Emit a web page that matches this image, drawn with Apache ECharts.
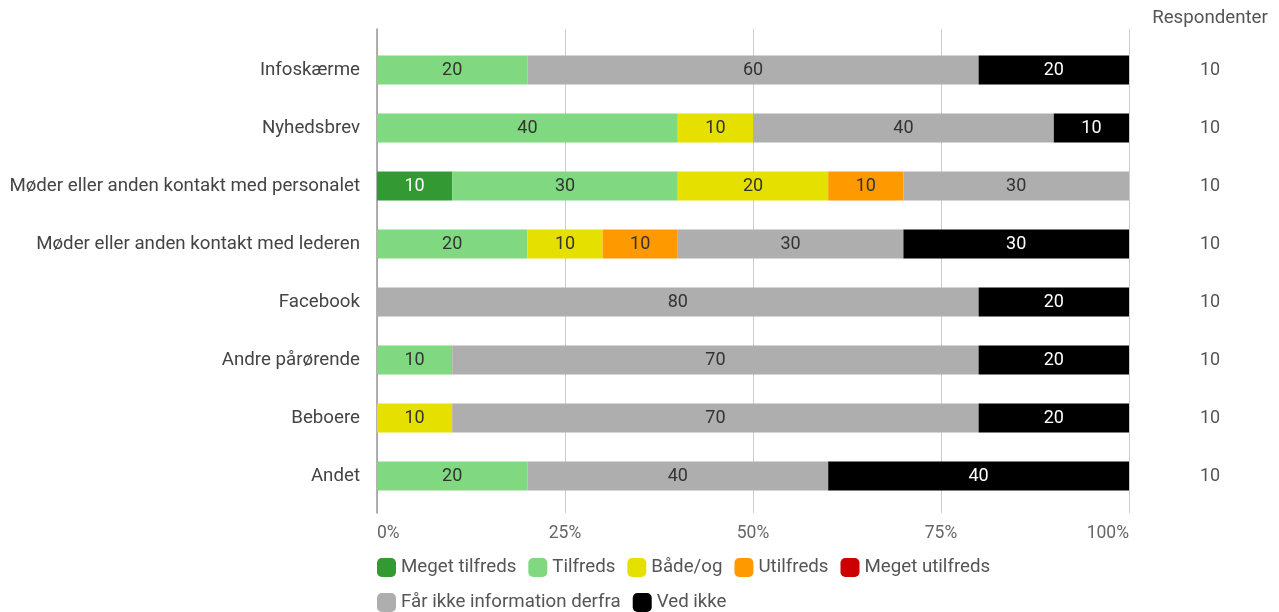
<!DOCTYPE html>
<html>
<head>
<meta charset="utf-8">
<script src="https://cdn.jsdelivr.net/npm/echarts@6/dist/echarts.min.js"></script>
<style>
  html, body { margin: 0; padding: 0; background: #fff; }
  #chart { width: 1279px; height: 612px; }
</style>
</head>
<body>
<div id="chart"></div>
<script>
// kategorier, oppefra og ned
const categories = [
  'Infoskærme',
  'Nyhedsbrev',
  'Møder eller anden kontakt med personalet',
  'Møder eller anden kontakt med lederen',
  'Facebook',
  'Andre pårørende',
  'Beboere',
  'Andet'
];
const respondents = [10, 10, 10, 10, 10, 10, 10, 10];

const megetTilfreds  = [0, 0, 10, 0, 0, 0, 0, 0];
const tilfreds       = [20, 40, 30, 20, 0, 10, 0, 20];
const baadeOg        = [0, 10, 20, 10, 0, 0, 10, 0];
const utilfreds      = [0, 0, 10, 10, 0, 0, 0, 0];
const megetUtilfreds = [0, 0, 0, 0, 0, 0, 0, 0];
const faarIkke       = [60, 40, 30, 30, 80, 70, 70, 40];
const vedIkke        = [20, 10, 0, 30, 20, 20, 20, 40];

const seriesDefs = [
  { name: 'Meget tilfreds', data: megetTilfreds, color: '#339933', text: '#fff' },
  { name: 'Tilfreds', data: tilfreds, color: '#80d880', text: '#333' },
  { name: 'Både/og', data: baadeOg, color: '#e6e000', text: '#333' },
  { name: 'Utilfreds', data: utilfreds, color: '#ff9900', text: '#333' },
  { name: 'Meget utilfreds', data: megetUtilfreds, color: '#cc0000', text: '#fff' },
  { name: 'Får ikke information derfra', data: faarIkke, color: '#aeaeae', text: '#333' },
  { name: 'Ved ikke', data: vedIkke, color: '#000000', text: '#fff' }
];

const font = 'Roboto, "Noto Sans", sans-serif';
const myChart = echarts.init(document.getElementById('chart'));

const legendStyle = {
  left: 377,
  padding: 0,
  orient: 'horizontal',
  icon: 'roundRect',
  itemWidth: 19,
  itemHeight: 19,
  itemGap: 12,
  textStyle: { fontFamily: font, fontSize: 18.7, color: '#555' }
};

myChart.setOption({
  animation: false,
  textStyle: { fontFamily: font },
  title: {
    text: 'Respondenter',
    left: 1205,
    top: 4,
    textAlign: 'center',
    textStyle: { fontFamily: font, fontSize: 18.7, fontWeight: 'normal', color: '#555' }
  },
  legend: [
    Object.assign({}, legendStyle, {
      top: 558,
      data: seriesDefs.slice(0, 5).map(s => s.name)
    }),
    Object.assign({}, legendStyle, {
      top: 593,
      data: seriesDefs.slice(5).map(s => s.name)
    })
  ],
  grid: [
    { left: 377, right: 150, top: 41, bottom: 107 },
    { left: 377, right: 150, top: 29, bottom: 99 }
  ],
  xAxis: [
    { type: 'value', gridIndex: 0, min: 0, max: 100, show: false },
    {
      type: 'value', gridIndex: 1, min: 0, max: 100, interval: 25,
      axisLine: { show: false },
      axisTick: { show: false },
      splitLine: { show: true, lineStyle: { color: '#cccccc', width: 1 } },
      axisLabel: {
        formatter: '{value}%',
        fontFamily: font, fontSize: 17.5, color: '#666', margin: 12,
        alignMinLabel: 'left', alignMaxLabel: 'right'
      }
    }
  ],
  yAxis: [
    {
      type: 'category', gridIndex: 0, inverse: true, data: categories,
      axisLine: { show: false },
      axisTick: { show: false },
      axisLabel: { fontFamily: font, fontSize: 18.7, color: '#444', margin: 17 }
    },
    {
      type: 'category', gridIndex: 0, inverse: true, position: 'right',
      data: respondents.map(String),
      axisLine: { show: false },
      axisTick: { show: false },
      axisLabel: { fontFamily: font, fontSize: 18, color: '#555', margin: 81, align: 'center' }
    },
    {
      type: 'value', gridIndex: 1, min: 0, max: 1,
      axisLine: { show: true, lineStyle: { color: '#999', width: 1.5 } },
      axisTick: { show: false },
      axisLabel: { show: false },
      splitLine: { show: false }
    }
  ],
  series: seriesDefs.map(s => ({
    name: s.name,
    type: 'bar',
    stack: 'total',
    xAxisIndex: 0,
    yAxisIndex: 0,
    barWidth: 29,
    data: s.data,
    itemStyle: { color: s.color },
    label: {
      show: true,
      position: 'inside',
      fontFamily: font,
      fontSize: 18,
      color: s.text,
      formatter: p => (p.value ? String(p.value) : '')
    },
    emphasis: { disabled: true }
  }))
});
window.onresize = myChart.resize;
</script>
</body>
</html>
